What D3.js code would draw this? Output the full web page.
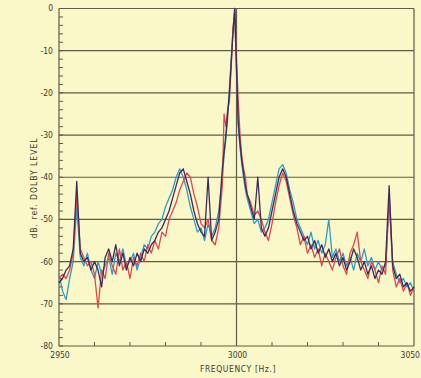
<!DOCTYPE html>
<html><head><meta charset="utf-8">
<script src="https://cdn.jsdelivr.net/npm/d3@7"></script>
<style>
html,body{margin:0;padding:0;background:#faf7c9;}
svg{display:block;}
text{font-family:"Liberation Sans Narrow","DejaVu Sans Condensed",sans-serif;fill:#3c3a30;}
</style></head>
<body>
<svg id="chart" width="421" height="378"></svg>
<script>
// frequency grid (Hz): 1 Hz steps, 0.5 Hz steps around the carrier
const freqs = d3.range(2950, 2996).concat(d3.range(2996, 3003.01, 0.5)).concat(d3.range(3004, 3051));

const darkSeries = [
 -65,-64,-62,-61,-57,-41,-58,-60,-59,-62,-60,-62,-66,-59,-57,-60,-56,-61,-58,-62,
 -59,-61,-58,-60,-57,-58,-56,-55,-53,-52,-50,-48,-45,-42,-39,-38,-41,-44,-48,-51,
 -53,-54,-40,-55,-53,-50,
 -38,-34,-30,-25,-20,-13,-6,0,-14,-27,-32,-36,-39,-42,-44,
 -47,-50,-40,-52,-54,-52,-48,-44,-40,-38,-40,-44,-48,-51,-53,-55,-54,-57,-55,-58,
 -56,-59,-57,-60,-58,-61,-59,-62,-60,-57,-59,-62,-60,-63,-61,-64,-62,-63,-60,-42,
 -61,-64,-63,-66,-65,-67,-66
];
const redSeries = [
 -64,-63,-64,-62,-58,-44,-57,-59,-61,-60,-63,-71,-62,-64,-58,-61,-63,-57,-62,-60,
 -64,-59,-61,-58,-60,-56,-58,-55,-57,-53,-54,-50,-48,-46,-43,-41,-39,-40,-44,-47,
 -51,-52,-50,-55,-56,-52,
 -42,-25,-28,-24,-22,-14,-5,0,-12,-22,-30,-35,-38,-40,-44,
 -46,-49,-48,-50,-53,-55,-51,-46,-42,-39,-41,-45,-49,-52,-56,-54,-58,-56,-59,-57,
 -61,-58,-60,-62,-59,-57,-61,-63,-58,-56,-53,-60,-62,-64,-60,-62,-65,-61,-63,-44,
 -62,-66,-64,-67,-65,-68,-66
];
const cyanSeries = [
 -63,-67,-69,-64,-60,-47,-59,-61,-58,-62,-64,-60,-63,-61,-59,-63,-58,-60,-57,-61,
 -60,-58,-62,-59,-56,-57,-54,-53,-51,-50,-47,-45,-43,-40,-38,-40,-43,-47,-50,-53,
 -52,-55,-51,-54,-52,-48,
 -40,-35,-31,-26,-19,-12,-5,-1,-15,-28,-33,-37,-40,-43,-45,
 -48,-51,-50,-53,-52,-50,-46,-42,-38,-37,-39,-43,-46,-50,-52,-54,-56,-53,-57,-55,
 -58,-56,-50,-59,-57,-60,-58,-61,-59,-62,-58,-60,-57,-61,-59,-62,-60,-62,-61,-46,
 -60,-63,-65,-64,-66,-65,-67
];

const yTicks = [0,-10,-20,-30,-40,-50,-60,-70,-80];
const yTickLabels = ["0","-10","-20","-30","-40","-50","-60","-70","-80"];
const xTickValues = [2950, 3000, 3050];
const xTickLabels = ["2950","3000","3050"];
const yTitle = "dB. ref. DOLBY LEVEL";
const xTitle = "FREQUENCY  [Hz.]";

const svg = d3.select("#chart");
const L = 59, R = 414, T = 8.5, B = 346;
const x = d3.scaleLinear().domain([2950, 3050]).range([L, R]);
const y = d3.scaleLinear().domain([-80, 0]).range([B, T]);
const ink = "#5e5c46";

// horizontal gridlines
svg.append("g").selectAll("line").data(yTicks).join("line")
  .attr("x1", L).attr("x2", R).attr("y1", d => y(d)).attr("y2", d => y(d))
  .attr("stroke", ink).attr("stroke-width", 1.2);
// vertical gridline at 3000 and left/right borders
[3000, 3050, 2950].forEach(v => {
  svg.append("line").attr("x1", x(v)).attr("x2", x(v)).attr("y1", T).attr("y2", B)
    .attr("stroke", ink).attr("stroke-width", 1.2);
});

// left minor ticks every 2 dB
svg.append("g").selectAll("line").data(d3.range(-80, 1, 2)).join("line")
  .attr("x1", L).attr("x2", L + 4).attr("y1", d => y(d)).attr("y2", d => y(d))
  .attr("stroke", ink).attr("stroke-width", 1);
// bottom ticks every 10 Hz
svg.append("g").selectAll("line").data(d3.range(2960, 3050, 10)).join("line")
  .attr("x1", d => x(d)).attr("x2", d => x(d)).attr("y1", B).attr("y2", B - 4)
  .attr("stroke", ink).attr("stroke-width", 1);

// y labels
svg.append("g").selectAll("text").data(yTicks).join("text")
  .attr("x", L - 6).attr("y", d => y(d)).attr("dy", "0.35em")
  .attr("text-anchor", "end").attr("font-size", 8.5)
  .text((d, i) => yTickLabels[i]);
// x labels
svg.append("g").selectAll("text").data(xTickValues).join("text")
  .attr("x", (d, i) => i === 2 ? 420 : x(d) + 1).attr("y", 358)
  .attr("text-anchor", (d, i) => i === 2 ? "end" : "middle").attr("font-size", 8.5)
  .text((d, i) => xTickLabels[i]);

// titles
svg.append("text").attr("transform", "translate(37,188) rotate(-90)")
  .attr("text-anchor", "middle").attr("font-size", 8.5).attr("letter-spacing", 1)
  .text(yTitle);
svg.append("text").attr("x", 238).attr("y", 372)
  .attr("text-anchor", "middle").attr("font-size", 8.5).attr("letter-spacing", 0.6)
  .text(xTitle);

// series
const line = d3.line().x((d, i) => x(freqs[i])).y(d => y(d));
const series = [
  {vals: cyanSeries, color: "#2f9cc4"},
  {vals: redSeries, color: "#e2464f"},
  {vals: darkSeries, color: "#3d2b5c"}
];
series.forEach(s => {
  svg.append("path").datum(s.vals).attr("d", line)
    .attr("fill", "none").attr("stroke", s.color).attr("stroke-width", 1.3)
    .attr("stroke-linejoin", "round");
});
</script>
</body></html>
